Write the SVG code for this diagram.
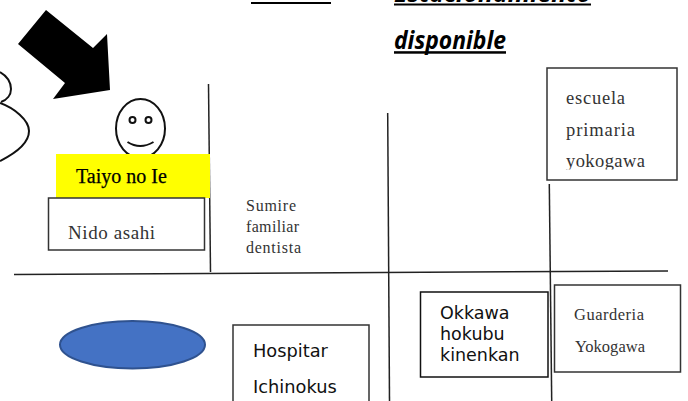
<svg xmlns="http://www.w3.org/2000/svg" width="688" height="401" viewBox="0 0 688 401">
<style>
.l{fill:none;stroke:#222;stroke-width:1.5}
.b{fill:#fff;stroke:#333;stroke-width:1.5}
.s{font-family:"Liberation Serif",serif;fill:#333}
.g{font-family:"DejaVu Sans",sans-serif;fill:#111}
.h{font-family:"Open Sans","Noto Sans",sans-serif;font-weight:700;font-style:italic;font-size:24.500px;fill:#000}
.f{fill:none;stroke:#111;stroke-width:2}
</style>
<defs><clipPath id="esc"><rect x="548" y="69" width="128" height="100.500"/></clipPath></defs>
<rect width="688" height="401" fill="#fff"/>
<g id="connectors">
<path class="l" d="M208.500 84L210.500 272"/>
<path class="l" d="M387.700 113L389.500 401"/>
<path class="l" d="M549.300 184L551.700 401"/>
<path class="l" d="M14 274.500L668 271"/>
</g>
<g id="heading">
<text class="h" x="394" y="1.500" textLength="197" lengthAdjust="spacingAndGlyphs">Estacionamiento</text>
<rect x="251" y="2" width="80" height="2" fill="#000"/>
<rect x="394" y="3.500" width="197" height="2" fill="#000"/>
<text class="h" x="394" y="48.500" textLength="112" lengthAdjust="spacingAndGlyphs">disponible</text>
<rect x="394" y="51.200" width="112" height="2.500" fill="#000"/>
</g>
<g id="arrow"><polygon points="46,10 93,48 107,34 110,90 53,99 65,83 18,44" fill="#000"/></g>
<g id="person"><path class="f" d="M0 72C7 76 11 82 11 89C11 95 7 100 1 102"/><path class="f" d="M0 103C14 108 29 120 29 131C29 144 12 155 0 161"/></g>
<g id="smiley">
<ellipse class="f" cx="140.500" cy="128.500" rx="24.500" ry="29.500"/>
<circle class="f" cx="132.500" cy="120" r="3"/><circle class="f" cx="148.500" cy="120" r="3"/>
<path class="f" d="M127.500 142Q140 150 153.500 142"/>
</g>
<g id="taiyo"><rect x="56" y="154" width="154" height="44" fill="#ff0"/>
<text x="76" y="183" font-family="Liberation Serif,serif" font-size="20" fill="#000" stroke="#000" stroke-width=".25">Taiyo no Ie</text></g>
<g id="nido"><rect class="b" x="48.500" y="198" width="156" height="52"/>
<text class="s" x="68" y="239" font-size="19" textLength="87">Nido asahi</text></g>
<g id="sumire" font-size="16"><text class="s" x="246" y="211" textLength="50">Sumire</text><text class="s" x="246" y="232" textLength="53">familiar</text><text class="s" x="246" y="253" textLength="55">dentista</text></g>
<g id="escuela"><rect class="b" x="547" y="68" width="130" height="112"/>
<text class="s" x="566" y="104" font-size="18.500" textLength="59">escuela</text><text class="s" x="566" y="136" font-size="18.500" textLength="69">primaria</text><text class="s" x="566" y="167" font-size="18.500" textLength="79" clip-path="url(#esc)">yokogawa</text></g>
<g id="oval"><ellipse cx="132.500" cy="344.800" rx="72.500" ry="23.700" fill="#4472c4" stroke="#2f528f" stroke-width="2"/></g>
<g id="hospital"><path class="b" d="M233 401V325H369V401"/>
<text class="g" x="253" y="357" font-size="17.800">Hospitar</text><text class="g" x="253" y="393" font-size="17.800">Ichinokus</text></g>
<g id="okkawa"><rect class="b" style="stroke:#111" x="420.500" y="292" width="127.500" height="85"/>
<text class="g" x="440" y="319" font-size="17.500">Okkawa</text><text class="g" x="440" y="340" font-size="17.500">hokubu</text><text class="g" x="440" y="361" font-size="17.500">kinenkan</text></g>
<g id="guarderia"><rect class="b" x="554.500" y="285" width="126" height="87"/>
<text class="s" x="574" y="320" font-size="16.500" textLength="70">Guarderia</text><text class="s" x="575" y="352" font-size="16.500" textLength="70">Yokogawa</text></g>
</svg>
